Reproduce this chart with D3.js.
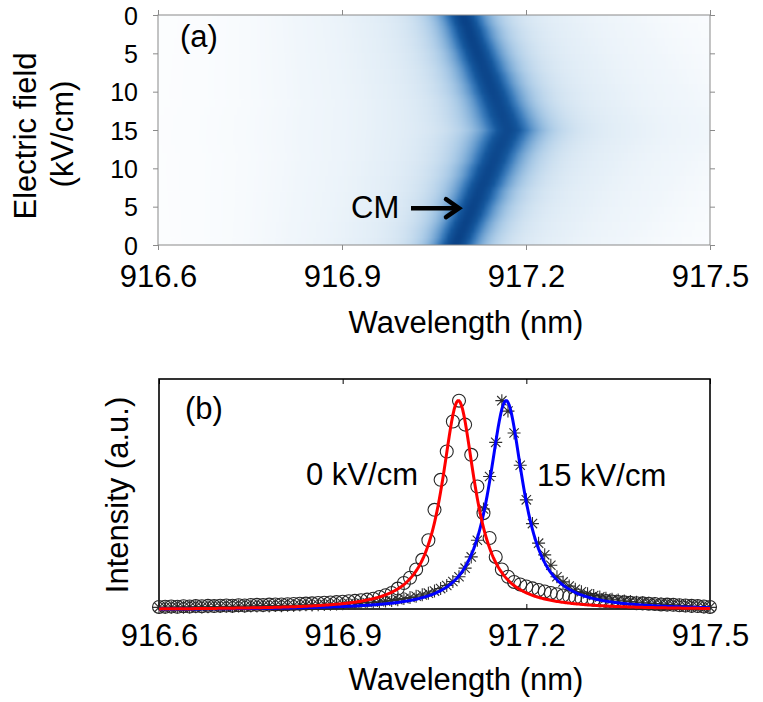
<!DOCTYPE html>
<html>
<head>
<meta charset="utf-8">
<script src="https://cdn.jsdelivr.net/npm/d3@7"></script>
<style>
  body { margin: 0; background: #fff; }
  svg text { font-family: "Liberation Sans", Arial, sans-serif; fill: #000; }
</style>
</head>
<body>
<svg id="chart" width="763" height="702"></svg>
<script>
// ---------- Panel (a): field sweep 0 -> 15 -> 0 kV/cm, one row per 1 kV/cm ----------
const fieldRowIndex = d3.range(31);
const peakCenter = [917.097, 917.102, 917.107, 917.111, 917.116, 917.121, 917.126, 917.131,
                    917.136, 917.141, 917.146, 917.151, 917.156, 917.161, 917.166, 917.171,
                    917.164, 917.158, 917.152, 917.147, 917.141, 917.136, 917.130, 917.124,
                    917.119, 917.113, 917.108, 917.102, 917.096, 917.091, 917.085];
const peakHalfWidth = [0.030, 0.030, 0.031, 0.031, 0.032, 0.032, 0.033, 0.033,
                       0.034, 0.034, 0.035, 0.035, 0.036, 0.037, 0.038, 0.038,
                       0.038, 0.037, 0.036, 0.035, 0.035, 0.034, 0.034, 0.033,
                       0.033, 0.032, 0.032, 0.031, 0.031, 0.030, 0.030];
const peakAmplitude = [1.00, 1.00, 0.99, 0.99, 0.98, 0.98, 0.97, 0.96,
                       0.96, 0.95, 0.95, 0.94, 0.93, 0.93, 0.92, 0.92,
                       0.92, 0.93, 0.93, 0.94, 0.95, 0.95, 0.96, 0.96,
                       0.97, 0.98, 0.98, 0.99, 0.99, 1.00, 1.00];
const fieldTickIndex = [0, 5, 10, 15, 20, 25, 30];
const fieldTickLabels = ["0", "5", "10", "15", "10", "5", "0"];
const wavelengthTicks = [916.6, 916.9, 917.2, 917.5];

// ---------- Panel (b): spectra at 0 and 15 kV/cm ----------
const wavelengths = d3.range(91).map(i => +(916.60 + i * 0.01).toFixed(2));
const intensity0kV = [
  0.010, 0.011, 0.012, 0.011, 0.013, 0.012, 0.014, 0.013, 0.015, 0.014,
  0.016, 0.017, 0.016, 0.018, 0.017, 0.019, 0.020, 0.019, 0.021, 0.022,
  0.022, 0.023, 0.024, 0.025, 0.026, 0.027, 0.029, 0.030, 0.031, 0.033,
  0.035, 0.037, 0.039, 0.042, 0.045, 0.049, 0.058, 0.066, 0.077, 0.098,
  0.125, 0.150, 0.190, 0.236, 0.330, 0.476, 0.620, 0.756, 0.900, 1.000,
  0.885, 0.740, 0.588, 0.460, 0.341, 0.250, 0.190, 0.155, 0.130, 0.118,
  0.108, 0.099, 0.091, 0.084, 0.077, 0.071, 0.065, 0.060, 0.055, 0.051,
  0.047, 0.044, 0.041, 0.038, 0.036, 0.034, 0.032, 0.030, 0.028, 0.027,
  0.025, 0.024, 0.022, 0.021, 0.020, 0.018, 0.017, 0.015, 0.014, 0.012,
  0.010];
const intensity15kV = [
  0.008, 0.009, 0.008, 0.010, 0.009, 0.010, 0.011, 0.010, 0.011, 0.012,
  0.012, 0.013, 0.012, 0.014, 0.013, 0.015, 0.014, 0.016, 0.015, 0.017,
  0.016, 0.018, 0.017, 0.019, 0.020, 0.019, 0.021, 0.022, 0.023, 0.024,
  0.025, 0.026, 0.027, 0.029, 0.031, 0.033, 0.035, 0.038, 0.041, 0.045,
  0.050, 0.055, 0.061, 0.068, 0.076, 0.086, 0.098, 0.113, 0.132, 0.155,
  0.196, 0.250, 0.330, 0.480, 0.636, 0.800, 1.000, 0.950, 0.845, 0.690,
  0.524, 0.410, 0.316, 0.260, 0.210, 0.155, 0.130, 0.110, 0.095, 0.083,
  0.073, 0.065, 0.058, 0.052, 0.047, 0.043, 0.039, 0.036, 0.033, 0.030,
  0.028, 0.026, 0.024, 0.022, 0.020, 0.018, 0.016, 0.014, 0.012, 0.010,
  0.008];
// Lorentzian fit parameters: [0 kV/cm, 15 kV/cm]
const fitCenter = [917.089, 917.167];
const fitHalfWidth = [0.033, 0.034];
const fitOffset = [0.004, 0.004];
const fitColors = ["#ff0000", "#0000ff"];

const svg = d3.select("#chart");
const FONT = 31;
const FIELD_TICK_FONT = 25;

// ================= Panel (a) =================
const ax = { left: 158, right: 710, top: 15, bottom: 245 };
const xA = d3.scaleLinear().domain([916.6, 917.5]).range([ax.left, ax.right]);
const yA = d3.scaleLinear().domain([0, 30]).range([ax.top, ax.bottom]);

const heatColor = d3.scaleLinear()
  .domain([0, 0.005, 0.012, 0.03, 0.09, 0.2, 0.35, 0.55, 0.75, 1.0])
  .range(["#ffffff", "#fafcfe", "#f0f6fb", "#e6f0f8", "#d3e4f2", "#aecde8",
          "#7aaad6", "#3b7cbc", "#15589e", "#0a4287"])
  .interpolate(d3.interpolateRgb)
  .clamp(true);

const nx = ax.right - ax.left, ny = fieldRowIndex.length;
const canvas = document.createElement("canvas");
canvas.width = nx; canvas.height = ny;
const ctx = canvas.getContext("2d");
const img = ctx.createImageData(nx, ny);
fieldRowIndex.forEach(r => {
  for (let c = 0; c < nx; c++) {
    const lam = xA.invert(ax.left + c + 0.5);
    const u = (lam - peakCenter[r]) / peakHalfWidth[r];
    const v = peakAmplitude[r] / (1 + u * u);
    const col = d3.rgb(heatColor(v));
    const k = (r * nx + c) * 4;
    img.data[k] = col.r; img.data[k + 1] = col.g; img.data[k + 2] = col.b; img.data[k + 3] = 255;
  }
});
ctx.putImageData(img, 0, 0);

svg.append("clipPath").attr("id", "clipA")
  .append("rect").attr("x", ax.left).attr("y", ax.top)
  .attr("width", ax.right - ax.left).attr("height", ax.bottom - ax.top);

const rowH = (yA(1) - yA(0));
svg.append("image")
  .attr("clip-path", "url(#clipA)")
  .attr("href", canvas.toDataURL())
  .attr("x", ax.left)
  .attr("y", yA(0) - rowH / 2)
  .attr("width", nx)
  .attr("height", rowH * ny)
  .attr("preserveAspectRatio", "none");

const gridGrey = "#8a8a8a";
function styleAxis(g, color, size) {
  g.select(".domain").remove();
  g.selectAll(".tick line").attr("stroke", color).attr("stroke-width", 1);
  g.selectAll("text").attr("font-size", size || FONT).attr("font-family", "Liberation Sans, Arial, sans-serif");
}

svg.append("g").attr("transform", `translate(0,${ax.bottom})`)
  .call(d3.axisBottom(xA).tickValues(wavelengthTicks).tickFormat(d3.format(".1f")).tickSize(5).tickPadding(15))
  .call(g => styleAxis(g, gridGrey));
svg.append("g").attr("transform", `translate(0,${ax.top})`)
  .call(d3.axisTop(xA).tickValues(wavelengthTicks).tickFormat("").tickSize(5))
  .call(g => styleAxis(g, gridGrey));
svg.append("g").attr("transform", `translate(${ax.left},0)`)
  .call(d3.axisLeft(yA).tickValues(fieldTickIndex).tickFormat((d, i) => fieldTickLabels[i]).tickSize(5).tickPadding(15))
  .call(g => styleAxis(g, gridGrey, FIELD_TICK_FONT))
  .call(g => g.selectAll("text").attr("dy", "0.36em"));
svg.append("g").attr("transform", `translate(${ax.right},0)`)
  .call(d3.axisRight(yA).tickValues(fieldTickIndex).tickFormat("").tickSize(5))
  .call(g => styleAxis(g, gridGrey));

svg.append("rect")
  .attr("x", ax.left).attr("y", ax.top)
  .attr("width", ax.right - ax.left).attr("height", ax.bottom - ax.top)
  .attr("fill", "none").attr("stroke", gridGrey).attr("stroke-width", 1);

svg.append("text").attr("x", 180).attr("y", 47).attr("font-size", FONT).text("(a)");
svg.append("text").attr("x", 351).attr("y", 218).attr("font-size", FONT).text("CM");

// arrow pointing at the CM line
const arrowY = yA(25.2);
svg.append("line")
  .attr("x1", 411).attr("y1", arrowY).attr("x2", 456).attr("y2", arrowY)
  .attr("stroke", "#000").attr("stroke-width", 4.5);
svg.append("path")
  .attr("d", `M446,${arrowY - 9} L459,${arrowY} L446,${arrowY + 9}`)
  .attr("fill", "none").attr("stroke", "#000").attr("stroke-width", 4.5)
  .attr("stroke-linecap", "round").attr("stroke-linejoin", "miter");

svg.append("text").attr("transform", "translate(36,136) rotate(-90)")
  .attr("text-anchor", "middle").attr("font-size", FONT).text("Electric field");
svg.append("text").attr("transform", "translate(73,134) rotate(-90)")
  .attr("text-anchor", "middle").attr("font-size", FONT).text("(kV/cm)");
svg.append("text").attr("x", 466).attr("y", 333)
  .attr("text-anchor", "middle").attr("font-size", FONT).text("Wavelength (nm)");

// ================= Panel (b) =================
const bx = { left: 159, right: 710, top: 379, bottom: 609 };
const xB = d3.scaleLinear().domain([916.6, 917.5]).range([bx.left, bx.right]);
const yB = d3.scaleLinear().domain([0, 1.104]).range([bx.bottom, bx.top]);

svg.append("g").attr("transform", `translate(0,${bx.bottom})`)
  .call(d3.axisBottom(xB).tickValues(wavelengthTicks).tickFormat(d3.format(".1f")).tickSize(-5).tickPadding(15))
  .call(g => styleAxis(g, "#000"));
svg.append("g").attr("transform", `translate(0,${bx.top})`)
  .call(d3.axisTop(xB).tickValues(wavelengthTicks).tickFormat("").tickSize(-5))
  .call(g => styleAxis(g, "#000"));

svg.append("rect")
  .attr("x", bx.left).attr("y", bx.top)
  .attr("width", bx.right - bx.left).attr("height", bx.bottom - bx.top)
  .attr("fill", "none").attr("stroke", "#000").attr("stroke-width", 1.6);

// measured points: circles (0 kV/cm) and asterisks (15 kV/cm)
const asteriskType = {
  draw(context, size) {
    const r = Math.sqrt(size) / 2, d = r * 0.72;
    context.moveTo(-r, 0); context.lineTo(r, 0);
    context.moveTo(0, -r); context.lineTo(0, r);
    context.moveTo(-d, -d); context.lineTo(d, d);
    context.moveTo(-d, d); context.lineTo(d, -d);
  }
};
const n = Math.min(wavelengths.length, intensity0kV.length, intensity15kV.length);
const pts0 = d3.range(n).map(i => [wavelengths[i], intensity0kV[i]]);
const pts15 = d3.range(n).map(i => [wavelengths[i], intensity15kV[i]]);

svg.append("g").selectAll("path").data(pts15).join("path")
  .attr("transform", d => `translate(${xB(d[0])},${yB(d[1])})`)
  .attr("d", d3.symbol().type(asteriskType).size(169))
  .attr("fill", "none").attr("stroke", "#2f2f2f").attr("stroke-width", 1.1);
svg.append("g").selectAll("path").data(pts0).join("path")
  .attr("transform", d => `translate(${xB(d[0])},${yB(d[1])})`)
  .attr("d", d3.symbol().type(d3.symbolCircle).size(Math.PI * 42))
  .attr("fill", "none").attr("stroke", "#262626").attr("stroke-width", 1.1);

// Lorentzian fits
const fitGrid = d3.range(0, 451).map(i => 916.6 + i * 0.002);
const fitLine = d3.line().x(d => xB(d[0])).y(d => yB(d[1]));
[1, 0].forEach(s => {
  const pts = fitGrid.map(l => {
    const u = (l - fitCenter[s]) / fitHalfWidth[s];
    return [l, (1 / (1 + u * u) - fitOffset[s]) / (1 - fitOffset[s])];
  });
  svg.append("path").datum(pts)
    .attr("d", fitLine)
    .attr("fill", "none").attr("stroke", fitColors[s]).attr("stroke-width", 3);
});

svg.append("text").attr("x", 185).attr("y", 419).attr("font-size", FONT).text("(b)");
svg.append("text").attr("x", 306).attr("y", 485).attr("font-size", FONT).text("0 kV/cm");
svg.append("text").attr("x", 537).attr("y", 486).attr("font-size", FONT).text("15 kV/cm");
svg.append("text").attr("transform", "translate(128,495) rotate(-90)")
  .attr("text-anchor", "middle").attr("font-size", FONT).text("Intensity (a.u.)");
svg.append("text").attr("x", 466).attr("y", 690)
  .attr("text-anchor", "middle").attr("font-size", FONT).text("Wavelength (nm)");
</script>
</body>
</html>
